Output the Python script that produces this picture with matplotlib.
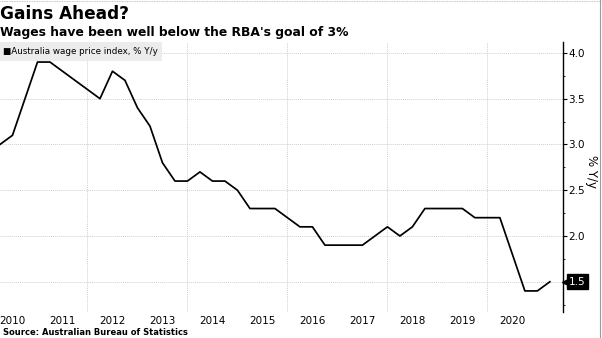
import matplotlib

matplotlib.use("Agg")
import matplotlib.pyplot as plt
import matplotlib.transforms as mtransforms
from matplotlib.lines import Line2D
import numpy as np
import pandas as pd

# Australia wage price index, % Y/y, quarterly
quarters = pd.period_range("2010Q1", "2021Q1", freq="Q")
wpi_yoy = [3.0, 3.1, 3.5, 3.9, 3.9, 3.8, 3.7, 3.6, 3.5, 3.8, 3.7, 3.4,
           3.2, 2.8, 2.6, 2.6, 2.7, 2.6, 2.6, 2.5, 2.3, 2.3, 2.3, 2.2,
           2.1, 2.1, 1.9, 1.9, 1.9, 1.9, 2.0, 2.1, 2.0, 2.1, 2.3, 2.3,
           2.3, 2.3, 2.2, 2.2, 2.2, 1.8, 1.4, 1.4, 1.5]
year_labels = list(range(2010, 2021))
grid_years = [2012, 2014, 2016, 2018, 2020]
y_ticks = [2.0, 2.5, 3.0, 3.5, 4.0]

# quarter-end as decimal year
x = np.array([q.year + q.quarter * 0.25 for q in quarters])

fig = plt.figure(figsize=(6.02, 3.38), dpi=100)
ax = fig.add_axes([0, 0.077, 0.935, 0.799])

ax.plot(x, wpi_yoy, color="black", lw=1.25, zorder=3)

ax.set_xlim(2010.25, 2021.51)
ax.set_ylim(1.17, 4.12)

# years labelled mid-year, dotted grid at every other January
ax.set_xticks([y + 0.5 for y in year_labels])
ax.set_xticklabels([str(y) for y in year_labels], fontsize=7.5)
ax.set_xticks(grid_years, minor=True)
ax.tick_params(axis="x", which="both", length=0, pad=3)

ax.yaxis.tick_right()
ax.set_yticks([1.5] + y_ticks)
ax.set_yticklabels([""] + [f"{v:.1f}" for v in y_ticks], fontsize=7.5)
ax.set_yticks(np.arange(1.25, 4.2, 0.25), minor=True)
ax.tick_params(axis="y", which="major", length=3, width=0.8, pad=1, direction="out")
ax.tick_params(axis="y", which="minor", length=1.5, width=0.6, direction="out")

ax.grid(axis="y", which="major", color="#cfcfcf", lw=0.7, ls=(0, (1, 1)))
ax.grid(axis="x", which="minor", color="#cfcfcf", lw=0.7, ls=(0, (1, 1)))

for side in ("top", "left", "bottom"):
    ax.spines[side].set_visible(False)
ax.spines["right"].set_linewidth(1.0)

# last-value tag on the axis
last = wpi_yoy[-1]
trans = mtransforms.blended_transform_factory(ax.transAxes, ax.transData)
ax.text(1.0, last, f"{last:.1f}", color="white", fontsize=7.5, va="center", ha="left",
        transform=mtransforms.offset_copy(trans, fig=fig, x=4.5, y=0, units="points"),
        bbox=dict(boxstyle="square,pad=0.22", fc="black", ec="black"), clip_on=False)
ax.plot([1.0], [last], marker="<", ms=6, color="black", clip_on=False,
        transform=mtransforms.offset_copy(trans, fig=fig, x=2.2, y=0, units="points"))

ax.text(1.05, 0.52, "% Y/y", transform=ax.transAxes, rotation=270,
        fontsize=8.5, va="center", ha="center")

# legend chip
ax.text(0.005, 0.965, "\u25A0Australia wage price index, % Y/y", transform=ax.transAxes,
        fontsize=6.3, va="center", ha="left",
        bbox=dict(boxstyle="square,pad=0.55", fc="#ececec", ec="none"))

fig.text(0.0, 0.96, "Gains Ahead?", fontsize=12.2, fontweight="bold", va="center")
fig.text(0.0, 0.905, "Wages have been well below the RBA's goal of 3%", fontsize=8.9,
         fontweight="bold", va="center")
fig.text(0.005, 0.015, "Source: Australian Bureau of Statistics", fontsize=6,
         fontweight="bold", va="center")

# thin image border: dotted top, gray right edge
fig.add_artist(Line2D([0, 1], [0.998, 0.998], transform=fig.transFigure,
                      color="#b0b0b0", lw=0.6, ls=(0, (1, 1))))
fig.add_artist(Line2D([0.997, 0.997], [0, 1], transform=fig.transFigure,
                      color="#9a9a9a", lw=0.8))

fig.savefig("out.png", dpi=100)
